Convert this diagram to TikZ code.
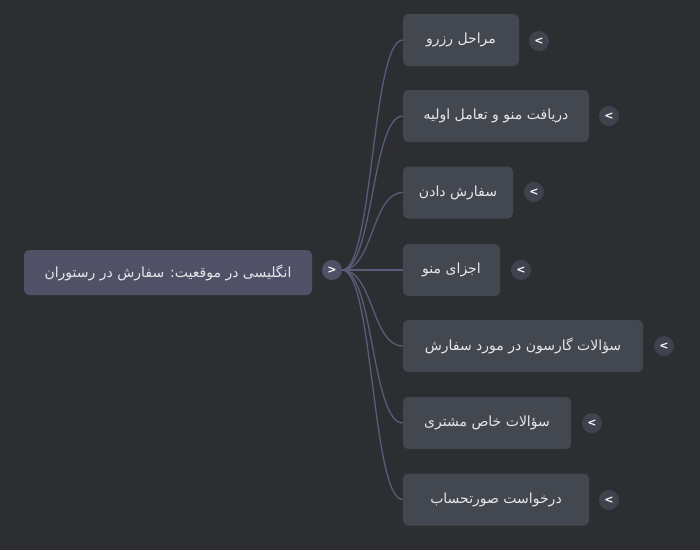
\documentclass[tikz,border=0pt]{standalone}
\usepackage{fontspec}
\TeXXeTstate=1
\newfontfamily\arabicfont[Script=Arabic]{DejaVu Sans}
\newfontfamily\symfont{DejaVu Sans}
\definecolor{bgc}{RGB}{45,46,50}
\definecolor{rootc}{RGB}{80,80,102}
\definecolor{childc}{RGB}{66,71,80}
\definecolor{togc}{RGB}{62,67,77}
\definecolor{edgec}{RGB}{92,92,122}
\definecolor{txtc}{RGB}{230,230,235}
\tikzset{
  rootbox/.style={rectangle, rounded corners=5pt, fill=rootc, text=txtc, minimum height=45pt, inner sep=0pt, font=\arabicfont\fontsize{14}{16}\selectfont},
  childbox/.style={rectangle, rounded corners=5pt, fill=childc, text=txtc, minimum height=52pt, inner sep=0pt, font=\arabicfont\fontsize{14}{16}\selectfont},
  toggle/.style={circle, fill=togc, text=white, minimum size=20pt, inner sep=0pt, font=\symfont\bfseries\fontsize{11}{12}\selectfont},
  roottoggle/.style={toggle, fill=rootc},
  link/.style={draw=edgec, line width=1.3pt}
}
\begin{document}
\begin{tikzpicture}[x=1pt,y=-1pt]
\fill[bgc] (0,0) rectangle (700,550);
\useasboundingbox (0,0) rectangle (700,550);
\node[rootbox, minimum width=288pt] (root) at (168,272.5) {\beginR انگلیسی در موقعیت: سفارش در رستوران\endR};
\node[roottoggle] (rt) at (332,270) {>};
\node[childbox, minimum width=116pt] (c1) at (461,40) {\beginR مراحل رزرو\endR};
\node[childbox, minimum width=186pt] (c2) at (496,116) {\beginR دریافت منو و تعامل اولیه\endR};
\node[childbox, minimum width=110pt] (c3) at (458,192.5) {\beginR سفارش دادن\endR};
\node[childbox, minimum width=97pt] (c4) at (451.5,270) {\beginR اجزای منو\endR};
\node[childbox, minimum width=240pt] (c5) at (523,346) {\beginR سؤالات گارسون در مورد سفارش\endR};
\node[childbox, minimum width=168pt] (c6) at (487,423) {\beginR سؤالات خاص مشتری\endR};
\node[childbox, minimum width=186pt] (c7) at (496,499.5) {\beginR درخواست صورتحساب\endR};
\node[toggle] (t1) at (539,41) {<};
\node[toggle] (t2) at (609,116) {<};
\node[toggle] (t3) at (534,192) {<};
\node[toggle] (t4) at (521,270) {<};
\node[toggle] (t5) at (664,346) {<};
\node[toggle] (t6) at (592,423) {<};
\node[toggle] (t7) at (609,500) {<};
\foreach \c in {c1,c2,c3,c4,c5,c6,c7}
  \draw[link] (rt.east) .. controls +(31,0) and +(-31,0) .. (\c.west);
\end{tikzpicture}
\end{document}
